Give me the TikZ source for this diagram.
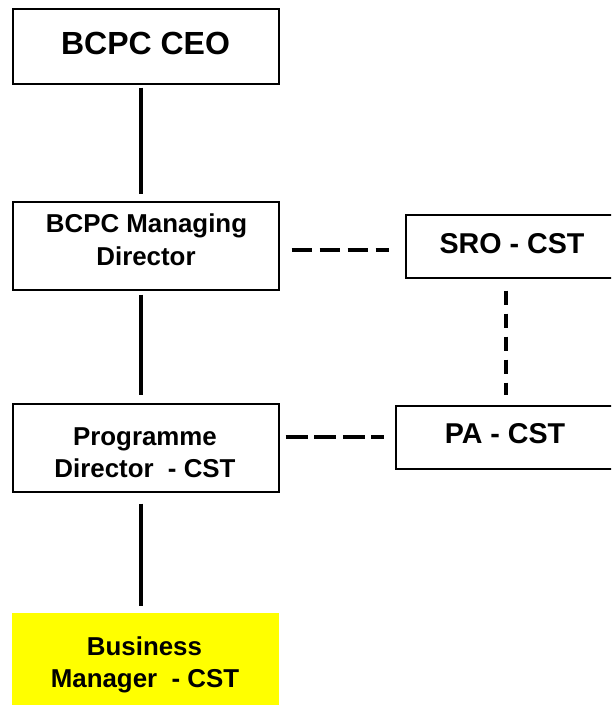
\documentclass[tikz,border=0pt]{standalone}
\usepackage{fontspec}
\setmainfont{Liberation Sans}
\usetikzlibrary{calc}
\begin{document}
\begin{tikzpicture}[x=0.75pt,y=-0.75pt,
  box/.style={draw, line width=1.1pt, inner sep=0pt, shape=rectangle},
  wide/.style={minimum width=199.5pt, minimum height=66pt},
  side/.style={minimum height=47.25pt},
  lbl/.style={anchor=base, inner sep=0pt, font=\bfseries\fontsize{19.4pt}{24pt}\selectfont},
  big/.style={lbl, font=\bfseries\fontsize{24pt}{28pt}\selectfont},
  mid/.style={lbl, font=\bfseries\fontsize{21.5pt}{26pt}\selectfont},
  link/.style={line width=2.3pt},
  dashA/.style={link, dash pattern=on 15pt off 6pt},
  dashB/.style={link, dash pattern=on 16.5pt off 4.9pt},
  dashV/.style={link, dash pattern=on 10.5pt off 6.75pt}]
\useasboundingbox (0,0) rectangle (611,709);
\clip (0,0) rectangle (611,709);

% boxes
\node[box, minimum width=199.5pt, minimum height=56.25pt] (ceo) at (146,46.5) {};
\node[box, wide] (md) at (146,246) {};
\node[box, wide] (prog) at (146,448) {};
\node[fill={rgb,255:red,255;green,255;blue,0}, inner sep=0pt,
      minimum width=200.25pt, minimum height=69pt] (biz) at (145.5,659) {};
\node[box, side, minimum width=159pt] (sro) at (512,246.5) {};
\node[box, side, minimum width=163.5pt] (pa) at (505,437.5) {};

% labels
\node[big] (ceoT) at (145.5,55) {BCPC CEO};
\node[lbl] (mdT1) at (146.5,233) {BCPC Managing};
\node[lbl] (mdT2) at (146,265) {Director};
\node[lbl] (progT1) at (145,445) {Programme};
\node[lbl] (progT2) at (145,477) {Director\ \ - CST};
\node[lbl] (bizT1) at (144.5,655) {Business};
\node[lbl] (bizT2) at (145,687) {Manager\ \ - CST};
\node[mid] (sroT) at (512,253) {SRO - CST};
\node[mid] (paT) at (505,443) {PA - CST};

% line of command
\draw[link] ($(ceo.south)+(-5,3)$) -- ($(md.north)+(-5,-7)$);
\draw[link] ($(md.south)+(-5,4)$) -- ($(prog.north)+(-5,-8)$);
\draw[link] ($(prog.south)+(-5,11)$) -- ($(biz.north)+(-4.5,-7)$);

% advisory links
\draw[dashA] ($(md.east)+(12,4)$) -- ($(sro.west)+(-16,3.5)$);
\draw[dashB] ($(prog.east)+(6,-11)$) -- ($(pa.west)+(-11,-0.5)$);
\draw[dashV] ($(sro.south)+(-6,12)$) -- ($(pa.north)+(1,-10)$);
\end{tikzpicture}
\end{document}
